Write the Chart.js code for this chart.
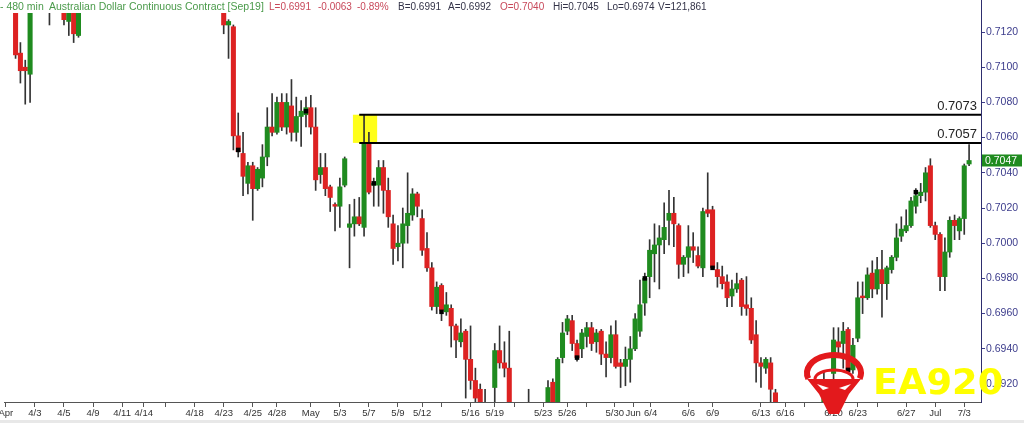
<!DOCTYPE html>
<html>
<head>
<meta charset="utf-8">
<script src="https://cdn.jsdelivr.net/npm/chart.js@4.4.1/dist/chart.umd.min.js"></script>
<style>
html, body { margin: 0; padding: 0; background: #fff; }
#wrap { position: relative; width: 1024px; height: 423px; overflow: hidden; }
#hdr { position: absolute; left: 0; top: 0; width: 980px; height: 13px; font: 10px "Liberation Sans", Arial, sans-serif; white-space: pre; line-height: 13px; }
#hdr span { position: absolute; top: 0; }
#hdr .t { font-size: 10.5px; }
.g { color: #4a9a4a; }
.r { color: #c8485a; }
.d { color: #333348; }
</style>
</head>
<body>
<div id="wrap">
  <canvas id="c" width="1024" height="423"></canvas>
  <div id="hdr">
    <span class="g t" style="left:0">- 480 min  Australian Dollar Continuous Contract [Sep19]</span>
    <span class="r" style="left:269px">L=0.6991</span>
    <span class="r" style="left:318px">-0.0063</span>
    <span class="r" style="left:357px">-0.89%</span>
    <span class="d" style="left:398px">B=0.6991</span>
    <span class="d" style="left:448px">A=0.6992</span>
    <span class="r" style="left:500px">O=0.7040</span>
    <span class="d" style="left:553px">Hi=0.7045</span>
    <span class="d" style="left:607px">Lo=0.6974</span>
    <span class="d" style="left:658px">V=121,861</span>
  </div>
</div>
<script>
// 480 min bars, index = bar number; null = bar outside the visible price range
const _ = null;

const opens = [
  _, _, 0.7136, 0.7108, 0.7100, 0.7096, _, _, _, 0.7138,
  _, _, 0.7140, 0.7126, 0.7140, 0.7118, _, _, _, _,
  _, _, _, _, _, _, _, _, _, _,
  _, _, _, _, _, _, _, _, _, _,
  _, _, _, _, _, 0.7138, 0.7124, 0.7123, 0.7061, 0.7051,
  0.7034, 0.7044, 0.7031, 0.7037, 0.7049, 0.7066, 0.7063, 0.7080, 0.7066, 0.7078,
  0.7063, 0.7072, 0.7073, 0.7077, 0.7066, 0.7039, 0.7043, 0.7032, 0.7022, 0.7021,
  0.7033, 0.7009, 0.7011, 0.7015, 0.7009, 0.7057, 0.7033, 0.7033, 0.7043, 0.7030,
  0.7011, 0.6998, 0.7000, 0.7010, 0.7016, 0.7028, 0.7014, 0.6997, 0.6986, 0.6964,
  0.6976, 0.6961, 0.6963, 0.6953, 0.6944, 0.6950, 0.6934, 0.6922, 0.6917, 0.6906,
  _, 0.6918, 0.6939, 0.6932, 0.6929, _, _, _, 0.6900, _,
  _, _, 0.6900, 0.6921, 0.6902, 0.6935, 0.6950, 0.6956, 0.6943, 0.6940,
  0.6947, 0.6952, 0.6944, 0.6950, 0.6937, 0.6935, 0.6948, 0.6932, 0.6930, 0.6934,
  0.6940, 0.6950, 0.6966, 0.6981, 0.6994, 0.6999, 0.7002, 0.7013, 0.7017, 0.7010,
  0.6988, 0.6992, 0.6998, 0.6993, 0.6986, 0.7019, 0.7019, 0.6985, 0.6981, 0.6978,
  0.6970, 0.6974, 0.6979, 0.6965, 0.6963, 0.6948, 0.6932, 0.6929, 0.6932, 0.6915,
  _, _, _, _, _, _, _, _, _, 0.6900,
  0.6905, 0.6926, 0.6944, 0.6943, 0.6951, 0.6928, 0.6946, 0.6970, 0.6969, 0.6983,
  0.6974, 0.6985, 0.6977, 0.6985, 0.6992, 0.7004, 0.7007, 0.7010, 0.7021, 0.7027,
  0.7029, 0.7044, 0.7010, 0.7005, 0.6981, 0.6995, 0.7013, 0.7007, 0.7014, 0.7045
];
const highs = [
  _, _, 0.7142, 0.7114, 0.7104, 0.7142, _, _, _, 0.7148,
  _, _, 0.7146, 0.7146, 0.7148, 0.7145, _, _, _, _,
  _, _, _, _, _, _, _, _, _, _,
  _, _, _, _, _, _, _, _, _, _,
  _, _, _, _, _, 0.7142, 0.7127, 0.7124, 0.7074, 0.7063,
  0.7046, 0.7046, 0.7043, 0.7056, 0.7077, 0.7085, 0.7083, 0.7085, 0.7085, 0.7093,
  0.7083, 0.7081, 0.7083, 0.7084, 0.7077, 0.7051, 0.7051, 0.7033, 0.7023, 0.7037,
  0.7049, 0.7022, 0.7025, 0.7026, 0.7073, 0.7063, 0.7037, 0.7047, 0.7047, 0.7037,
  0.7016, 0.7010, 0.7020, 0.7040, 0.7031, 0.7029, 0.7019, 0.7006, 0.6989, 0.6978,
  0.6977, 0.6972, 0.6965, 0.6954, 0.6957, 0.6951, 0.6953, 0.6929, 0.6920, 0.6917,
  _, 0.6943, 0.6953, 0.6944, 0.6950, _, _, _, 0.6917, _,
  _, _, 0.6922, 0.6923, 0.6935, 0.6955, 0.6959, 0.6959, 0.6945, 0.6951,
  0.6955, 0.6955, 0.6951, 0.6951, 0.6944, 0.6953, 0.6956, 0.6934, 0.6941, 0.6947,
  0.6960, 0.6979, 0.6983, 0.7002, 0.7011, 0.7010, 0.7023, 0.7030, 0.7026, 0.7011,
  0.6993, 0.7010, 0.7006, 0.6998, 0.7020, 0.7040, 0.7021, 0.6989, 0.6987, 0.6982,
  0.6979, 0.6983, 0.6980, 0.6981, 0.6969, 0.6956, 0.6935, 0.6935, 0.6935, 0.6917,
  _, _, _, _, _, _, _, _, _, 0.6927,
  0.6920, 0.6952, 0.6952, 0.6955, 0.6952, 0.6946, 0.6978, 0.6978, 0.6986, 0.6990,
  0.6992, 0.6996, 0.6987, 0.6993, 0.7011, 0.7015, 0.7019, 0.7026, 0.7031, 0.7034,
  0.7043, 0.7048, 0.7012, 0.7006, 0.7003, 0.7015, 0.7016, 0.7015, 0.7045, 0.7056
];
const lows = [
  _, _, 0.7105, 0.7091, 0.7079, 0.7080, _, _, _, 0.7124,
  _, _, 0.7124, 0.7118, 0.7114, 0.7117, _, _, _, _,
  _, _, _, _, _, _, _, _, _, _,
  _, _, _, _, _, _, _, _, _, _,
  _, _, _, _, _, 0.7119, 0.7105, 0.7053, 0.7049, 0.7027,
  0.7028, 0.7013, 0.7030, 0.7032, 0.7044, 0.7061, 0.7062, 0.7064, 0.7062, 0.7058,
  0.7058, 0.7055, 0.7066, 0.7062, 0.7030, 0.7034, 0.7027, 0.7018, 0.7007, 0.7009,
  0.7032, 0.6986, 0.7004, 0.7010, 0.7004, 0.7028, 0.7021, 0.7021, 0.7017, 0.7009,
  0.6988, 0.6990, 0.6986, 0.7000, 0.7013, 0.7015, 0.6993, 0.6984, 0.6962, 0.6960,
  0.6956, 0.6959, 0.6941, 0.6935, 0.6941, 0.6912, 0.6917, 0.6900, 0.6895, 0.6890,
  _, 0.6905, 0.6929, 0.6924, 0.6890, _, _, _, 0.6885, _,
  _, _, 0.6895, 0.6895, 0.6895, 0.6932, 0.6948, 0.6939, 0.6933, 0.6935,
  0.6941, 0.6939, 0.6938, 0.6931, 0.6924, 0.6932, 0.6929, 0.6918, 0.6919, 0.6921,
  0.6939, 0.6947, 0.6959, 0.6969, 0.6978, 0.6974, 0.6994, 0.6999, 0.6998, 0.6980,
  0.6981, 0.6983, 0.6989, 0.6986, 0.6981, 0.7015, 0.6985, 0.6975, 0.6974, 0.6964,
  0.6964, 0.6972, 0.6959, 0.6959, 0.6943, 0.6921, 0.6918, 0.6926, 0.6905, 0.6895,
  _, _, _, _, _, _, _, _, _, 0.6895,
  0.6898, 0.6920, 0.6935, 0.6929, 0.6926, 0.6926, 0.6944, 0.6960, 0.6968, 0.6969,
  0.6971, 0.6958, 0.6968, 0.6983, 0.6990, 0.7001, 0.7006, 0.7009, 0.7017, 0.7023,
  0.7024, 0.7009, 0.7002, 0.6973, 0.6973, 0.6992, 0.7002, 0.7002, 0.7005, 0.7044
];
const closes = [
  _, _, 0.7107, 0.7098, 0.7098, 0.7138, _, _, _, 0.7142,
  _, _, 0.7127, 0.7140, 0.7119, 0.7138, _, _, _, _,
  _, _, _, _, _, _, _, _, _, _,
  _, _, _, _, _, _, _, _, _, _,
  _, _, _, _, _, 0.7124, 0.7126, 0.7061, 0.7052, 0.7038,
  0.7044, 0.7031, 0.7042, 0.7049, 0.7066, 0.7063, 0.7080, 0.7066, 0.7080, 0.7063,
  0.7072, 0.7075, 0.7077, 0.7066, 0.7036, 0.7043, 0.7031, 0.7026, 0.7021, 0.7032,
  0.7048, 0.7011, 0.7015, 0.7011, 0.7057, 0.7029, 0.7034, 0.7043, 0.7030, 0.7015,
  0.6997, 0.7000, 0.7011, 0.7017, 0.7028, 0.7021, 0.6996, 0.6986, 0.6964, 0.6975,
  0.6962, 0.6965, 0.6953, 0.6945, 0.6949, 0.6934, 0.6922, 0.6912, 0.6900, 0.6898,
  _, 0.6939, 0.6932, 0.6929, 0.6895, _, _, _, 0.6895, _,
  _, _, 0.6918, 0.6902, 0.6934, 0.6949, 0.6957, 0.6943, 0.6935, 0.6949,
  0.6952, 0.6943, 0.6949, 0.6937, 0.6935, 0.6948, 0.6930, 0.6930, 0.6934, 0.6940,
  0.6957, 0.6965, 0.6980, 0.6996, 0.6999, 0.7003, 0.7009, 0.7017, 0.7011, 0.6988,
  0.6992, 0.6998, 0.6996, 0.6987, 0.7018, 0.7017, 0.6986, 0.6981, 0.6977, 0.6969,
  0.6974, 0.6977, 0.6964, 0.6963, 0.6945, 0.6932, 0.6930, 0.6934, 0.6917, 0.6900,
  _, _, _, _, _, _, _, _, _, 0.6914,
  0.6918, 0.6945, 0.6941, 0.6950, 0.6928, 0.6942, 0.6969, 0.6969, 0.6982, 0.6974,
  0.6985, 0.6977, 0.6986, 0.6992, 0.7003, 0.7008, 0.7010, 0.7024, 0.7027, 0.7029,
  0.7040, 0.7010, 0.7005, 0.6981, 0.6995, 0.7013, 0.7010, 0.7014, 0.7044, 0.7047
];

// black square markers (every 14 bars)
const markerIdx = [48, 62, 76, 90, 118, 132, 146, 174, 188];
const markerVals = [0.7053, 0.7075, 0.7034, 0.6961, 0.6935, 0.6980, 0.6986, 0.6928, 0.7029];

// horizontal levels drawn from bar 73 to the right edge
const levels = [0.7073, 0.7057];
const levelFrom = 73;
const zoneFrom = 71.7, zoneTo = 76.7;

const yTicks = [0.6920, 0.6940, 0.6960, 0.6980, 0.7000, 0.7020, 0.7040, 0.7060, 0.7080, 0.7100, 0.7120];
const tickIdx = [0, 6, 12, 18, 24, 28.5, 33, 39, 45, 51, 56, 63, 69, 75, 81, 86, 90, 96, 101, 105,
  111, 116, 120, 125.8, 129.6, 133.2, 141, 146, 156, 161, 165, 171, 176, 180, 186, 192, 198];
const tickText = ['Apr', '4/3', '4/5', '4/9', '4/11', '4/14', '', '4/18', '4/23', '4/25', '4/28', 'May',
  '5/3', '5/7', '5/9', '5/12', '', '5/16', '5/19', '', '5/23', '5/26', '', '5/30', 'Jun', '6/4',
  '6/6', '6/9', '6/13', '6/16', '', '6/20', '6/23', '', '6/27', 'Jul', '7/3'];

const UP = '#1f8b1f', DOWN = '#dd2222', WICK = '#333';
const X_MIN = -0.39, X_MAX = 201.46;
const FONT = '"Liberation Sans", Arial, sans-serif';

const wickData = [], bodyData = [], bodyColors = [];
for (let i = 0; i < opens.length; i++) {
  if (opens[i] === null) continue;
  wickData.push({ x: i, y: [lows[i], highs[i]] });
  bodyData.push({ x: i, y: [opens[i], closes[i]] });
  bodyColors.push(closes[i] >= opens[i] ? UP : DOWN);
}

const extras = {
  id: 'extras',
  beforeDraw(chart) {
    const c = chart.ctx;
    c.save();
    c.fillStyle = '#e8e8e8';
    c.fillRect(0, 420, 1024, 3);
    c.restore();
  },
  beforeDatasetsDraw(chart) {
    const c = chart.ctx, x = chart.scales.x, y = chart.scales.y;
    c.save();
    c.fillStyle = '#ffff1a';
    const x0 = x.getPixelForValue(zoneFrom), x1 = x.getPixelForValue(zoneTo);
    const y0 = y.getPixelForValue(levels[0]), y1 = y.getPixelForValue(levels[1]);
    c.fillRect(x0, y0, x1 - x0, y1 - y0);
    c.restore();
  },
  afterDraw(chart) {
    const c = chart.ctx, y = chart.scales.y, area = chart.chartArea;
    c.save();
    // axis line above the plot
    c.strokeStyle = '#2e2e6e';
    c.lineWidth = 1;
    c.beginPath();
    c.moveTo(area.right + 0.5, 0);
    c.lineTo(area.right + 0.5, area.top);
    c.stroke();

    // level labels
    c.fillStyle = '#222';
    c.font = '13px ' + FONT;
    c.textAlign = 'right';
    c.textBaseline = 'alphabetic';
    levels.forEach(v => c.fillText(v.toFixed(4), area.right - 4, y.getPixelForValue(v) - 5));

    // last price tag
    const last = closes[closes.length - 1];
    const py = y.getPixelForValue(last);
    c.fillStyle = '#1f8b1f';
    c.fillRect(area.right + 1, py - 6, 40, 12);
    c.fillStyle = '#fff';
    c.font = '10.5px ' + FONT;
    c.textAlign = 'left';
    c.textBaseline = 'middle';
    c.fillText(last.toFixed(4), area.right + 4, py + 0.5);

    // watermark logo
    c.fillStyle = '#e3191c';
    c.strokeStyle = '#e3191c';
    c.lineWidth = 6;
    c.beginPath();
    c.ellipse(834, 373, 27, 18, 0, Math.PI * 0.9, Math.PI * 2.1);
    c.stroke();
    c.lineWidth = 3;
    c.beginPath();
    c.ellipse(834, 379, 19, 9, 0, Math.PI, Math.PI * 2);
    c.stroke();
    c.beginPath();
    c.moveTo(807, 379);
    c.lineTo(861, 379);
    c.lineTo(849, 394);
    c.lineTo(839, 414);
    c.lineTo(829, 414);
    c.lineTo(819, 394);
    c.closePath();
    c.fill();
    c.fillStyle = '#fff';
    c.beginPath();
    c.moveTo(817, 384); c.lineTo(829, 388); c.lineTo(823, 390); c.closePath();
    c.moveTo(851, 384); c.lineTo(839, 388); c.lineTo(845, 390); c.closePath();
    c.fill();

    c.fillStyle = '#ffff00';
    c.font = 'bold 35px "DejaVu Sans", sans-serif';
    c.textAlign = 'left';
    c.textBaseline = 'alphabetic';
    c.translate(873, 394);
    c.scale(1.05, 1);
    c.fillText('EA920', 0, 0);
    c.restore();
  }
};

new Chart(document.getElementById('c'), {
  type: 'bar',
  data: {
    datasets: [
      { type: 'line', data: [{ x: levelFrom, y: levels[0] }, { x: X_MAX, y: levels[0] }],
        borderColor: '#000', borderWidth: 2, pointRadius: 0, clip: 0, order: 1 },
      { type: 'line', data: [{ x: levelFrom, y: levels[1] }, { x: X_MAX, y: levels[1] }],
        borderColor: '#000', borderWidth: 2, pointRadius: 0, clip: 0, order: 1 },
      { type: 'line', data: markerIdx.map((v, k) => ({ x: v, y: markerVals[k] })),
        showLine: false, pointStyle: 'rect', pointRadius: 3.2, pointBorderWidth: 0,
        pointBackgroundColor: '#000', clip: 0, order: 0 },
      { data: bodyData, backgroundColor: bodyColors, barThickness: 4.4, minBarLength: 1,
        grouped: false, clip: 0, order: 2 },
      { data: wickData, backgroundColor: WICK, barThickness: 1,
        grouped: false, clip: 0, order: 3 }
    ]
  },
  options: {
    responsive: false,
    devicePixelRatio: 1,
    animation: false,
    events: [],
    layout: { padding: { top: 13, left: 0, right: 0, bottom: 0 } },
    plugins: { legend: { display: false }, tooltip: { enabled: false } },
    scales: {
      x: {
        type: 'linear', min: X_MIN, max: X_MAX, bounds: 'data', offset: false,
        afterBuildTicks: s => { s.ticks = tickIdx.map(v => ({ value: v })); },
        afterFit: s => { s.height = 21; s.paddingLeft = 0; s.paddingRight = 0; },
        ticks: { autoSkip: false, maxRotation: 0, minRotation: 0, padding: 1, color: '#333',
          font: { family: FONT, size: 9.5 }, callback: (v, i) => tickText[i] },
        grid: { offset: false, drawOnChartArea: false, drawTicks: true, tickLength: 5, color: '#555' },
        border: { display: true, color: '#555' }
      },
      y: {
        position: 'right', min: 0.690977, max: 0.71308, bounds: 'data',
        afterBuildTicks: s => { s.ticks = yTicks.map(v => ({ value: v })); },
        afterFit: s => { s.width = 43; s.paddingTop = 0; s.paddingBottom = 0; },
        ticks: { padding: 1, color: '#3c3c8c', font: { family: FONT, size: 10.5 },
          callback: v => v.toFixed(4) },
        grid: { drawOnChartArea: false, drawTicks: true, tickLength: 4, color: '#3c3c8c' },
        border: { display: true, color: '#2e2e6e' }
      }
    }
  },
  plugins: [extras]
});
</script>
</body>
</html>
